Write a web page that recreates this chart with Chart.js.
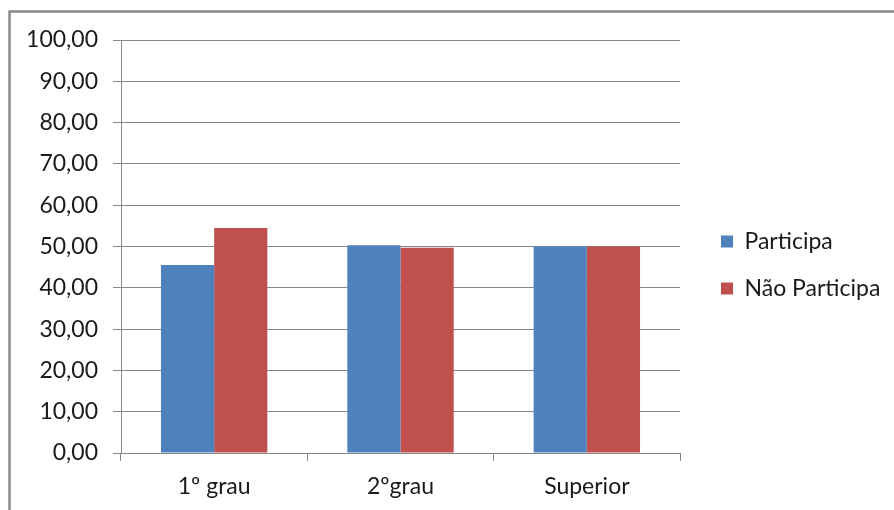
<!DOCTYPE html>
<html>
<head>
<meta charset="utf-8">
<script src="https://cdn.jsdelivr.net/npm/chart.js@4/dist/chart.umd.min.js"></script>
<style>
  html, body { margin: 0; padding: 0; background: #fff; }
  #wrap { width: 894px; height: 510px; position: relative; }
</style>
</head>
<body>
<div id="wrap"><canvas id="c" width="894" height="510"></canvas></div>
<script>
// Escolaridade x participação (%)
const categories = ['1º grau', '2ºgrau', 'Superior'];
const participa = [45.5, 50.3, 50.0];
const naoParticipa = [54.5, 49.7, 50.0];
const seriesNames = ['Participa', 'Não Participa'];

const GRID = '#878787';
const TEXT = '#1a1a1a';
const FONT = { family: 'Lato', size: 23 };

// outer frame of the chart object
const framePlugin = {
  id: 'frame',
  beforeDraw(chart) {
    const ctx = chart.ctx;
    ctx.save();
    ctx.fillStyle = '#fff';
    ctx.fillRect(0, 0, chart.width, chart.height);
    ctx.strokeStyle = '#8a8a8a';
    ctx.lineWidth = 2.5;
    ctx.beginPath();
    ctx.moveTo(9.5, chart.height + 5);
    ctx.lineTo(9.5, 11.5);
    ctx.lineTo(chart.width + 5, 11.5);
    ctx.stroke();
    ctx.restore();
  }
};

// fixed-width legend column, nudged away from the plot
const legendLayout = {
  id: 'legendLayout',
  beforeLayout(chart) {
    const lg = chart.legend;
    if (lg && !lg._fixedWidth) {
      const fit = lg.fit.bind(lg);
      lg.fit = function () { fit(); this.width = 214; };
      lg._fixedWidth = true;
    }
  },
  afterLayout(chart) {
    const lg = chart.legend;
    if (lg) { lg.left += 17; lg.right += 17; lg.top -= 5; lg.bottom -= 5; }
  }
};

new Chart(document.getElementById('c'), {
  type: 'bar',
  data: {
    labels: categories,
    datasets: [
      { label: seriesNames[0], data: participa, backgroundColor: '#4F81BD' },
      { label: seriesNames[1], data: naoParticipa, backgroundColor: '#C0504D' }
    ]
  },
  options: {
    responsive: false,
    animation: false,
    devicePixelRatio: 1,
    layout: { padding: { left: 0, top: 40, right: 0, bottom: 10 } },
    datasets: { bar: { categoryPercentage: 0.571, barPercentage: 1.0 } },
    plugins: {
      tooltip: { enabled: false },
      legend: {
        position: 'right',
        labels: {
          font: FONT, color: TEXT,
          boxWidth: 12, boxHeight: 12, padding: 24
        }
      }
    },
    scales: {
      x: {
        afterFit(scale) { scale.height = 47; },
        grid: { drawOnChartArea: false, color: GRID, tickLength: 8, offset: true },
        border: { color: GRID },
        ticks: { font: FONT, color: TEXT, padding: 12, maxRotation: 0 }
      },
      y: {
        min: 0, max: 100,
        afterFit(scale) { scale.width = 121; },
        grid: { color: GRID, tickLength: 8 },
        border: { color: GRID },
        ticks: {
          stepSize: 10, font: FONT, color: TEXT, padding: 15,
          callback: v => v.toFixed(2).replace('.', ',')
        }
      }
    }
  },
  plugins: [framePlugin, legendLayout]
});
</script>
</body>
</html>
